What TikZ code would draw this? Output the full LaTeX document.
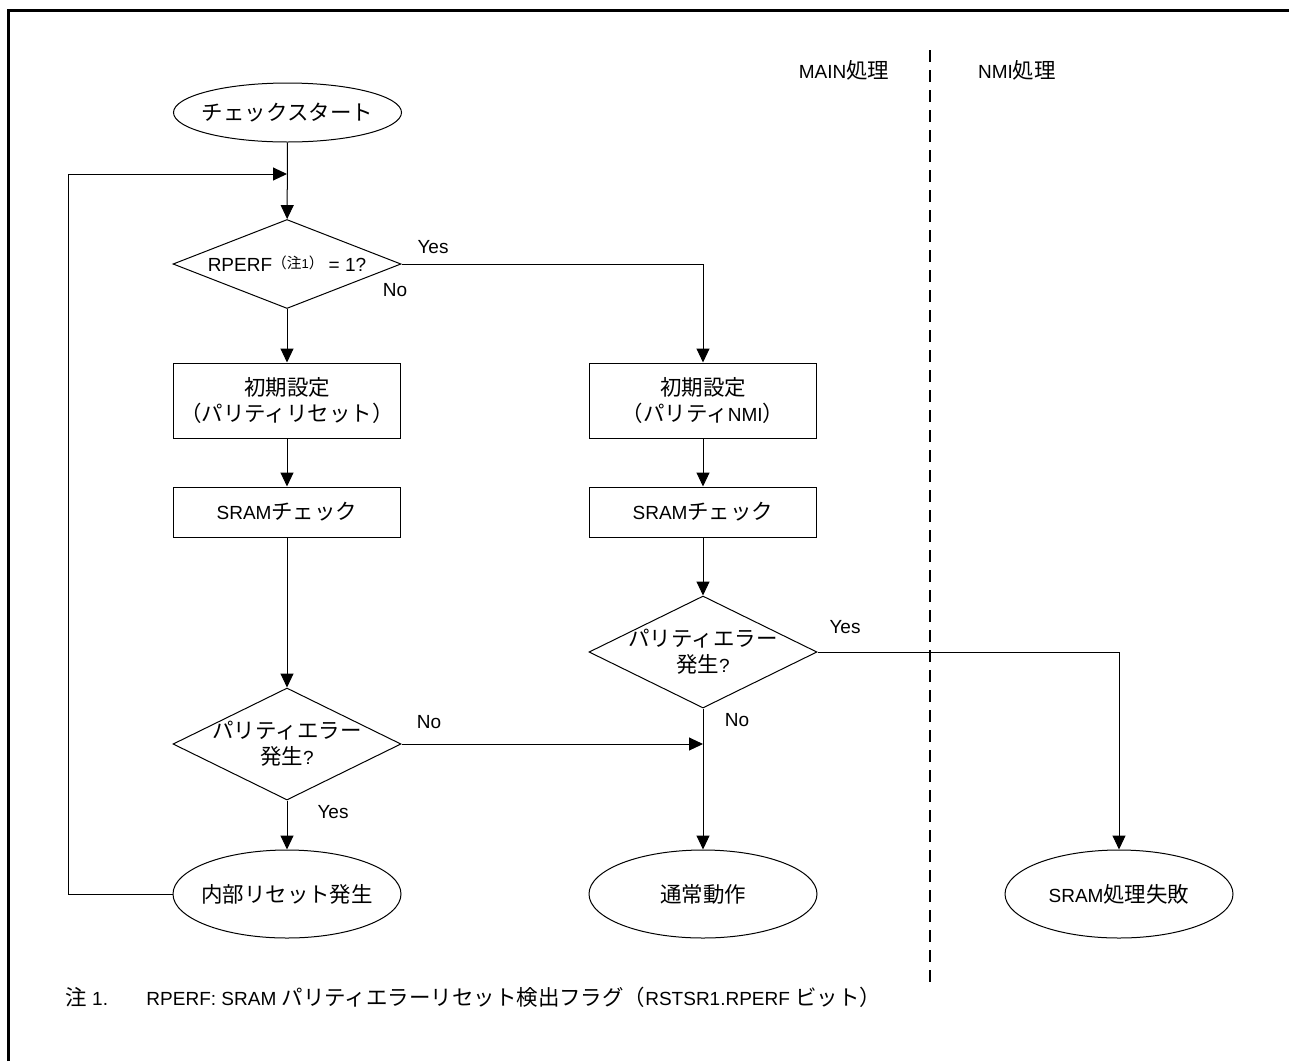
\documentclass[tikz,border=0pt]{standalone}
\usepackage{fontspec}
\setmainfont{Liberation Sans}
\newfontfamily\jpfont{Noto Sans CJK JP}[Scale=1.13]
\newcommand\J[1]{{\jpfont #1}}
\newcommand\dtext[1]{\smash{\makebox[0pt]{\raisebox{-6.5pt}{\begin{tabular}{@{}c@{}}#1\end{tabular}}}}}
\newcommand\etext[1]{\makebox[0pt]{#1}}
\usetikzlibrary{shapes.geometric,arrows.meta}
\begin{document}
\begin{tikzpicture}[x=1pt,y=-1pt,line width=1pt,
  every node/.style={font=\fontsize{19}{26}\selectfont},
  term/.style={draw,ellipse,minimum width=228pt,minimum height=59pt,inner sep=0pt},
  termb/.style={term,minimum height=88pt},
  proc/.style={draw,rectangle,minimum width=227pt,inner sep=0pt,align=center},
  dec/.style={draw,diamond,minimum width=228pt,inner sep=0pt},
  arr/.style={-{Triangle[length=14pt,width=13pt]}},
  lbl/.style={inner sep=0pt},
  frame/.style={line width=3pt},
  lane/.style={line width=2pt,dash pattern=on 12pt off 8pt}]
\path[use as bounding box] (0,0) rectangle (1289,1061);
% frame
\draw[frame] (8.5,1061) -- (8.5,10.5) -- (1289,10.5);
% lane separator
\coordinate (dt) at (930,50);
\coordinate (db) at (930,985);
\draw[lane] (dt) -- (db);
\node (hm) at (844,70) {MAIN\J{処理}};
\node (hn) at (1017,70) {NMI\J{処理}};
% nodes
\node[term] (start) at (287.5,112.5) {\etext{\J{チェックスタート}}};
\node[dec,minimum height=89pt] (d1) at (287,264) {\dtext{RPERF\raisebox{3pt}{\fontsize{13}{13}\selectfont\J{（注}1\J{）}} = 1?}};
\node[proc,minimum height=75pt] (b1) at (287,400.5) {\J{初期設定}\\\J{（パリティリセット）}};
\node[proc,minimum height=50pt] (b2) at (287,512) {SRAM\J{チェック}};
\node[proc,minimum height=75pt] (b3) at (703,400.5) {\J{初期設定}\\\J{（パリティ}NMI\J{）}};
\node[proc,minimum height=50pt] (b4) at (703,512) {SRAM\J{チェック}};
\node[dec,minimum height=112pt] (d2) at (287,744) {\dtext{\J{パリティエラー}\\\J{発生}?}};
\node[dec,minimum height=112pt] (d3) at (703,652) {\dtext{\J{パリティエラー}\\\J{発生}?}};
\node[termb] (e1) at (287,894) {\etext{\J{内部リセット発生}}};
\node[termb] (e2) at (703,894) {\etext{\J{通常動作}}};
\node[termb] (e3) at (1119,894) {\etext{SRAM\J{処理失敗}}};
% connectors
\coordinate (loopin) at (287,174);
\coordinate (lc) at (68,174);
\coordinate (m) at (703,744);
\draw[arr] (start) -- (d1);
\draw[arr] (d1) -- (b1);
\draw[arr] (b1) -- (b2);
\draw[arr] (b2) -- (d2);
\draw[arr] (d2) -- (e1);
\draw[arr] (d1.east) -| (b3.north);
\draw[arr] (b3) -- (b4);
\draw[arr] (b4) -- (d3);
\draw[arr] (d3) -- (e2);
\draw[arr] (d3.east) -| (e3.north);
\draw[arr] (d2.east) -- (m);
\draw[arr] (e1.west) -| (lc) -- (loopin);
% labels
\node[lbl] (y1) at (433,247) {Yes};
\node[lbl] (n1) at (395,290) {No};
\node[lbl] (n2) at (429,722) {No};
\node[lbl] (y2) at (333,812) {Yes};
\node[lbl] (y3) at (845,627) {Yes};
\node[lbl] (n3) at (737,720) {No};
% footnote
\node[anchor=base west,inner sep=0pt] (fn) at (65,1005) {\makebox[81pt][l]{\J{注} 1.}RPERF: SRAM \J{パリティエラーリセット検出フラグ（}RSTSR1.RPERF \J{ビット）}};
\end{tikzpicture}
\end{document}
